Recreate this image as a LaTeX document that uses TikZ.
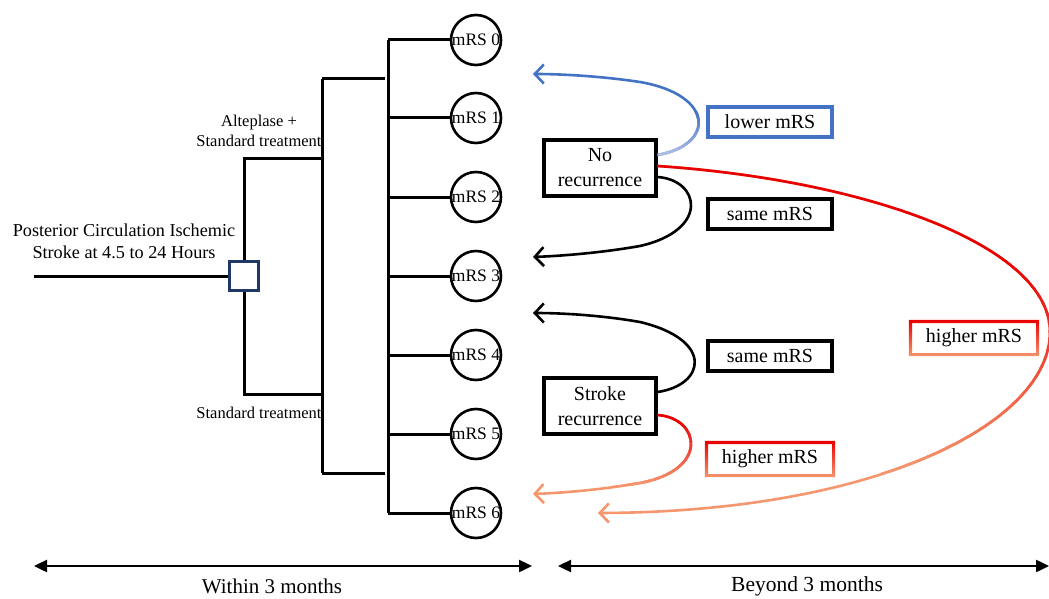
\documentclass[tikz,border=0pt]{standalone}
\usepackage{fontspec}
\setmainfont{Liberation Serif}
\usetikzlibrary{arrows.meta}
\definecolor{ublue}{RGB}{68,114,196}
\definecolor{lblue}{RGB}{195,208,234}
\definecolor{ured}{RGB}{232,0,0}
\definecolor{uorange}{RGB}{245,150,110}
\definecolor{navy}{RGB}{31,56,100}
\tikzset{
  tree/.style={line width=3pt, black},
  mrs/.style={circle, draw, line width=2.6pt, minimum size=50pt, inner sep=0pt, font=\fontsize{17.5}{20}\selectfont},
  recbox/.style={draw, line width=3.2pt, align=center, inner sep=0pt, minimum width=112pt, minimum height=56pt, font=\fontsize{20}{25}\selectfont},
  outbox/.style={draw, line width=3.2pt, inner sep=0pt, minimum width=124pt, minimum height=30pt, font=\fontsize{20}{24}\selectfont},
  gline/.style={line width=2.6pt},
  barb/.style={-{Straight Barb[length=9pt,width=19pt]}},
  axis/.style={line width=2.4pt, {Triangle[length=13pt,width=12pt]}-{Triangle[length=13pt,width=12pt]}},
  lbl/.style={align=center, inner sep=0pt},
}
\newcommand{\gradstroke}[5]{%
  \foreach \k in {0,...,23} {%
    \pgfmathsetmacro{\ya}{#2+(#3-#2)*\k/24}%
    \pgfmathsetmacro{\yb}{#2+(#3-#2)*(\k+1.3)/24}%
    \pgfmathsetmacro{\pc}{100-100*(\k+0.5)/24}%
    \begin{scope}
      \clip (0,\ya) rectangle (1049,\yb);
      \draw[gline, color=#4!\pc!#5] #1;
    \end{scope}}}
\begin{document}
\begin{tikzpicture}[x=1pt, y=-1pt]
\fill[white] (0,0) rectangle (1049,599);
\useasboundingbox (0,0) rectangle (1049,599);

% ---------- tree ----------
\coordinate (start) at (34,276);
\node[draw=navy, fill=white, line width=3pt, minimum size=29pt, inner sep=0pt] (sq) at (244,276) {};
\coordinate (alt) at (322,158);
\coordinate (std) at (322,394);
\coordinate (t1) at (322,79);
\coordinate (t2) at (322,473);
\coordinate (t1e) at (385,79);
\coordinate (t2e) at (385,473);
\coordinate (busTop) at (388,40);
\coordinate (busBot) at (388,513);

\draw[tree] (start) -- (sq.west);
\draw[tree] (sq.north) |- (alt);
\draw[tree] (sq.south) |- (std);
\draw[tree] (t1) -- (t2);
\draw[tree] (t1) -- (t1e);
\draw[tree] (t2) -- (t2e);
\draw[tree] (busTop) -- (busBot);

\foreach \i/\yy in {0/40,1/118,2/197,3/276,4/355,5/434,6/513} {
  \node[mrs] (m\i) at (476,\yy) {mRS \i};
  \coordinate (b\i) at (388,\yy);
  \draw[tree] (b\i) -- (m\i.west);
}

\node[lbl, font=\fontsize{18.2}{22}\selectfont] (pcis) at (124,241) {Posterior Circulation Ischemic\\Stroke at 4.5 to 24 Hours};
\node[lbl, font=\fontsize{16.5}{20}\selectfont] (altlbl) at (259,131) {Alteplase +\\Standard treatment};
\node[lbl, font=\fontsize{16.5}{20}\selectfont] (stdlbl) at (259,413) {Standard treatment};

% ---------- right side boxes ----------
\node[recbox] (norec) at (600,168) {No\\recurrence};
\node[recbox] (srec) at (600,406) {Stroke\\recurrence};
\node[outbox, draw=ublue] (lower) at (770,122) {lower mRS};
\node[outbox] (sameA) at (770,214) {same mRS};
\node[outbox] (sameB) at (770,356) {same mRS};
\node[outbox, draw=none] (highA) at (770,459) {higher mRS};
\node[outbox, draw=none] (highB) at (974,338) {higher mRS};
\foreach \n in {highA,highB} {
  \shade[even odd rule, top color=ured, bottom color=uorange]
    ([xshift=-1.6pt,yshift=1.6pt]\n.north west) rectangle ([xshift=1.6pt,yshift=-1.6pt]\n.south east)
    ([xshift=1.6pt,yshift=-1.6pt]\n.north west) rectangle ([xshift=-1.6pt,yshift=1.6pt]\n.south east);
}

% ---------- arrow tips ----------
\coordinate (tB) at (533,74);
\coordinate (tS1) at (533,257);
\coordinate (tS2) at (533,313);
\coordinate (tH1) at (533,494);
\coordinate (tH2) at (598,513);

\def\pblue{([yshift=13pt]norec.east) .. controls (715,145) and (715,95) .. (640,82) .. controls (600,76) and (560,74) .. (tB)}
\def\psameA{([yshift=-9pt]norec.east) .. controls (700,180) and (710,230) .. (640,246) .. controls (600,253) and (560,256) .. (tS1)}
\def\psameB{([yshift=14pt]srec.east) .. controls (705,385) and (715,340) .. (640,322) .. controls (600,315) and (560,313) .. (tS2)}
\def\phighA{([yshift=-9pt]srec.east) .. controls (700,418) and (710,470) .. (640,483) .. controls (600,490) and (560,493) .. (tH1)}
\def\phighB{([yshift=2pt]norec.east) .. controls (865,180) and (1050,245) .. (1050,332) .. controls (1050,422) and (880,512) .. (tH2)}

% blue (lower mRS)
\draw[gline, ublue, barb] \pblue;
\gradstroke{\pblue}{162}{112}{lblue}{ublue}
% black (same mRS)
\draw[gline, black, barb] \psameA;
\draw[gline, black, barb] \psameB;
% red lower (higher mRS)
\draw[gline, uorange, barb] \phighA;
\begin{scope}
  \clip (600,400) rectangle (760,420);
  \draw[gline, ured] \phighA;
\end{scope}
\gradstroke{\phighA}{420}{485}{ured}{uorange}
% red big (higher mRS)
\draw[gline, uorange, barb] \phighB;
\begin{scope}
  \clip (600,140) rectangle (1049,260);
  \draw[gline, ured] \phighB;
\end{scope}
\gradstroke{\phighB}{260}{470}{ured}{uorange}

% ---------- time axes ----------
\coordinate (w1) at (34,566);
\coordinate (w2) at (532,566);
\coordinate (b1) at (558,566);
\coordinate (b2) at (1049,566);
\draw[axis] (w1) -- (w2);
\draw[axis] (b1) -- (b2);
\node[lbl, font=\fontsize{21}{24}\selectfont] (within) at (272,586) {Within 3 months};
\node[lbl, font=\fontsize{21.5}{24}\selectfont] (beyond) at (807,586) {Beyond 3 months};
\end{tikzpicture}
\end{document}
